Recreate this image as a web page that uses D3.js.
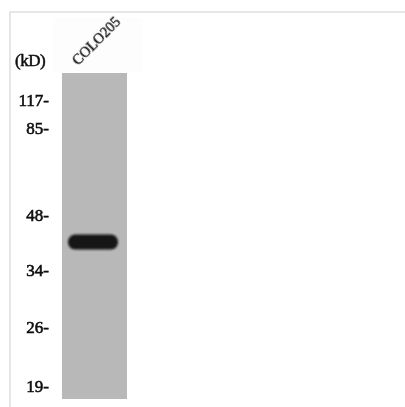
<!DOCTYPE html>
<html>
<head>
<meta charset="utf-8">
<script src="https://cdn.jsdelivr.net/npm/d3@7"></script>
<style>
html, body { margin: 0; padding: 0; background: #fff; }
svg { display: block; }
text { font-family: "Liberation Serif", serif; fill: #111; stroke: #111; }
</style>
</head>
<body>
<div id="chart"></div>
<script>
var markerKD = [117, 85, 48, 34, 26, 19];
var laneNames = ["COLO205"];
var bandKD = [40.5];

var width = 405, height = 407;

var svg = d3.select("#chart").append("svg")
	.attr("width", width).attr("height", height);

var defs = svg.append("defs");
defs.append("filter").attr("id", "blur")
	.attr("x", "-20%").attr("y", "-50%").attr("width", "140%").attr("height", "200%")
	.append("feGaussianBlur").attr("stdDeviation", 0.9);
defs.append("filter").attr("id", "soft")
	.append("feGaussianBlur").attr("stdDeviation", 0.3);

// gel runs are not log-linear here, so the scale goes through each marker
var y = d3.scaleLog().domain(markerKD).range([100, 128, 215, 270, 327, 386]);
var x = d3.scaleBand().domain(laneNames).range([62, 127]);

// faint page frame
svg.append("path")
	.attr("d", "M10,407V12H405")
	.attr("fill", "none").attr("stroke", "#e0e0e0").attr("stroke-width", 1.6);

// faint pasted box behind the lane label
svg.append("rect")
	.attr("x", 53).attr("y", 18).attr("width", 90).attr("height", 54)
	.attr("fill", "#fdfdfd");

// lane
svg.selectAll("rect.lane").data(laneNames).join("rect")
	.attr("class", "lane")
	.attr("x", d => x(d))
	.attr("y", 73)
	.attr("width", x.bandwidth())
	.attr("height", 326)
	.attr("fill", "#b8b8b8");

// band
svg.selectAll("rect.band").data(bandKD).join("rect")
	.attr("class", "band")
	.attr("x", x(laneNames[0]) + 6)
	.attr("y", d => y(d) - 7.5)
	.attr("width", 50)
	.attr("height", 15)
	.attr("rx", 7)
	.attr("fill", "#161616")
	.attr("filter", "url(#blur)");

// marker labels
svg.selectAll("text.marker").data(markerKD).join("text")
	.attr("class", "marker")
	.attr("x", 49)
	.attr("y", d => y(d))
	.attr("dy", "0.35em")
	.attr("text-anchor", "end")
	.attr("font-size", 17)
	.attr("stroke-width", 0.6)
	.attr("filter", "url(#soft)")
	.text(d => d + "-");

svg.append("text")
	.attr("x", 15)
	.attr("y", 66)
	.attr("font-size", 17)
	.attr("letter-spacing", -0.5)
	.attr("stroke-width", 0.55)
	.attr("filter", "url(#soft)")
	.text("(kD)");

// lane label
svg.selectAll("text.lane-label").data(laneNames).join("text")
	.attr("class", "lane-label")
	.attr("transform", d => `translate(${x(d) + 16},66) rotate(-45)`)
	.attr("font-size", 14.5)
	.attr("stroke-width", 0.35)
	.attr("filter", "url(#soft)")
	.text(d => d);
</script>
</body>
</html>
